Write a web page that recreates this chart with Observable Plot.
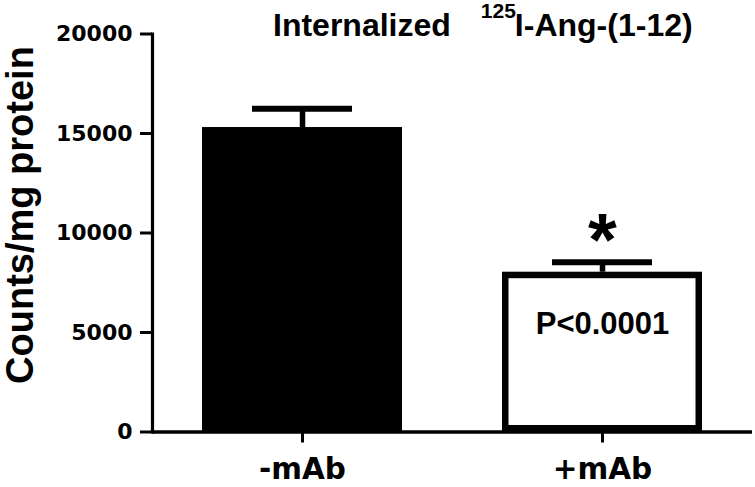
<!DOCTYPE html>
<html>
<head>
<meta charset="utf-8">
<script src="https://cdn.jsdelivr.net/npm/d3@7"></script>
<script src="https://cdn.jsdelivr.net/npm/@observablehq/plot@0.6"></script>
<style>
  html, body { margin: 0; padding: 0; background: #fff; }
  #chart svg { font-family: "Liberation Sans", Arial, sans-serif; font-weight: bold; }
</style>
</head>
<body>
<div id="chart"></div>
<script>
// ---- data ----
const groups = ["-mAb", "+mAb"];
const means = [15300, 8030];
const sems = [950, 500];
const yTicks = [0, 5000, 10000, 15000, 20000];
const sigGroups = ["+mAb"];
const sigStars = ["*"];
const sigPValues = ["P<0.0001"];
const yLabel = "Counts/mg protein";
const titleMain = "Internalized";
const titleSup = "125";
const titleRest = "I-Ang-(1-12)";

const data = groups.map((g, i) => ({group: g, mean: means[i], top: means[i] + sems[i]}));
const sigData = sigGroups.map((g, i) => {
  const d = data.find(e => e.group === g);
  return {group: g, mean: d.mean, top: d.top, star: sigStars[i], p: sigPValues[i]};
});
const fmt = d3.format("d");
const wideFont = "DejaVu Sans, Verdana, sans-serif";

const svg = Plot.plot({
  width: 755,
  height: 487,
  marginLeft: 152,
  marginRight: 3,
  marginTop: 33.5,
  marginBottom: 55.5,
  style: {background: "white", color: "black"},
  x: {type: "band", domain: groups, paddingInner: 1/3, paddingOuter: 1/6, align: 0.5},
  y: {domain: [0, 20000]},
  color: {type: "identity"},
  marks: [
    Plot.barY(data, {
      x: "group", y: "mean",
      fill: d => d.group === "-mAb" ? "black" : "white",
      stroke: "black", strokeWidth: 6.5, inset: 3.25
    }),
    Plot.ruleX(data, {x: "group", y1: "mean", y2: "top", stroke: "black", strokeWidth: 5.5}),
    Plot.tickY(data, {x: "group", y: "top", stroke: "black", strokeWidth: 6, insetLeft: 50, insetRight: 50}),
    Plot.frame({anchor: "left", stroke: "black", strokeWidth: 3.2}),
    Plot.ruleY([0], {stroke: "black", strokeWidth: 3.5}),
    // axis ticks (labels drawn separately below)
    Plot.axisY({ticks: yTicks, tickSize: 12, tickFormat: () => "", stroke: "black", strokeWidth: 3, label: null}),
    Plot.axisX({tickSize: 11, tickFormat: () => "", stroke: "black", strokeWidth: 3, label: null}),
    // tick labels (wide bold face, as in the reference)
    Plot.text(yTicks, {
      y: d => d, text: d => fmt(d), frameAnchor: "left", textAnchor: "end", lineAnchor: "middle",
      dx: -20, fontSize: 22, fontWeight: "bold", fontFamily: wideFont, fill: "black"
    }),
    Plot.text(groups, {
      x: d => d, text: d => d, frameAnchor: "bottom", textAnchor: "middle", lineAnchor: "top",
      dy: 26, fontSize: 29.5, fontWeight: "bold", fontFamily: wideFont, fill: "black"
    }),
    Plot.text(sigData, {x: "group", y: "top", text: "star", fontSize: 74, fontWeight: "bold", lineAnchor: "bottom", dy: 3}),
    Plot.text(sigData, {x: "group", y: "mean", text: "p", fontSize: 31, fontWeight: "bold", lineAnchor: "bottom", dy: 61.5}),
    Plot.text([yLabel], {
      text: d => d, frameAnchor: "left", rotate: -90, dx: -132, dy: -18,
      fontSize: 38, fontWeight: "bold", textAnchor: "middle", lineAnchor: "middle"
    })
  ]
});

// title with superscript
const title = d3.select(svg).append("text")
  .attr("x", 273).attr("y", 36)
  .attr("text-anchor", "start")
  .attr("font-size", 32).attr("font-weight", "bold").attr("fill", "black");
title.append("tspan").text(titleMain);
title.append("tspan").attr("dx", 30).attr("dy", -18).attr("font-size", 21).text(titleSup);
title.append("tspan").attr("dx", -1).attr("dy", 18).text(titleRest);

document.getElementById("chart").appendChild(svg);
</script>
</body>
</html>
